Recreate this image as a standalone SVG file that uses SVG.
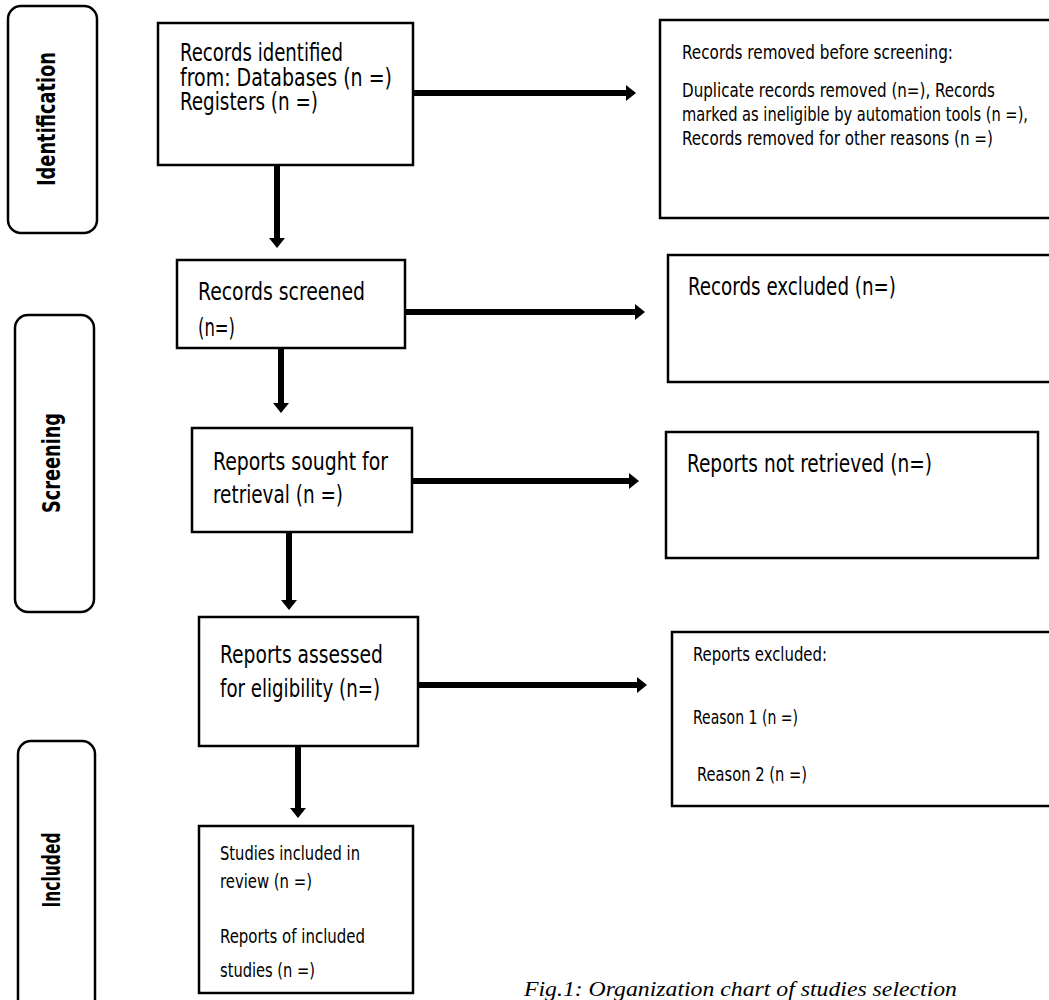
<svg xmlns="http://www.w3.org/2000/svg" width="1049" height="1000" viewBox="0 0 1049 1000">
<style>
.box{fill:#fff;stroke:#000;stroke-width:2.5}
.side{fill:#fff;stroke:#000;stroke-width:2.5}
.t{font-family:"DejaVu Sans Condensed","Liberation Sans Narrow","Liberation Sans",sans-serif;font-stretch:condensed;fill:#000}
.big{font-size:24px}
.small{font-size:19px}
.lab{font-family:"DejaVu Sans Condensed","Liberation Sans Narrow","Liberation Sans",sans-serif;font-stretch:condensed;font-weight:bold;font-size:24px;fill:#000;text-anchor:middle}
.cap{font-family:"Liberation Serif","Times New Roman",serif;font-style:italic;font-size:20px;fill:#000}
.conn line{stroke:#000;stroke-width:6}
</style>
<defs>
<marker id="ah" markerUnits="userSpaceOnUse" markerWidth="11" markerHeight="16" refX="0" refY="8" orient="auto">
<path d="M0,0 L10,8 L0,16 Z" fill="#000"/>
</marker>
</defs>
<rect width="1049" height="1000" fill="#fff"/>

<g id="stage-identification">
<rect class="side" x="8" y="6" width="89" height="227" rx="13"/>
<text class="lab" transform="translate(55,119) rotate(-90)" textLength="134" lengthAdjust="spacingAndGlyphs">Identification</text>
</g>
<g id="stage-screening">
<rect class="side" x="15" y="315" width="79" height="297" rx="13"/>
<text class="lab" transform="translate(60,463) rotate(-90)" textLength="100" lengthAdjust="spacingAndGlyphs">Screening</text>
</g>
<g id="stage-included">
<rect class="side" x="18" y="741" width="77" height="275" rx="13"/>
<text class="lab" transform="translate(60,870) rotate(-90)" textLength="75" lengthAdjust="spacingAndGlyphs">Included</text>
</g>

<g id="records-identified">
<rect class="box" x="158" y="23" width="255" height="142"/>
<text class="t big" x="180" y="61" textLength="163" lengthAdjust="spacingAndGlyphs">Records identified</text>
<text class="t big" x="180" y="86" textLength="212" lengthAdjust="spacingAndGlyphs">from: Databases (n =)</text>
<text class="t big" x="180" y="110" textLength="138" lengthAdjust="spacingAndGlyphs">Registers (n =)</text>
</g>
<g id="records-removed">
<rect class="box" x="660" y="20" width="400" height="198"/>
<text class="t small" x="682" y="59" textLength="271" lengthAdjust="spacingAndGlyphs">Records removed before screening:</text>
<text class="t small" x="682" y="97" textLength="313" lengthAdjust="spacingAndGlyphs">Duplicate records removed (n=), Records</text>
<text class="t small" x="682" y="121" textLength="346" lengthAdjust="spacingAndGlyphs">marked as ineligible by automation tools (n =),</text>
<text class="t small" x="682" y="145" textLength="311" lengthAdjust="spacingAndGlyphs">Records removed for other reasons (n =)</text>
</g>
<g id="records-screened">
<rect class="box" x="177" y="260" width="228" height="88"/>
<text class="t big" x="198" y="300" textLength="167" lengthAdjust="spacingAndGlyphs">Records screened</text>
<text class="t big" x="198" y="336" textLength="37" lengthAdjust="spacingAndGlyphs">(n=)</text>
</g>
<g id="records-excluded">
<rect class="box" x="668" y="255" width="400" height="127"/>
<text class="t big" x="688" y="295" textLength="208" lengthAdjust="spacingAndGlyphs">Records excluded (n=)</text>
</g>
<g id="reports-sought">
<rect class="box" x="192" y="428" width="220" height="104"/>
<text class="t big" x="213" y="470" textLength="175" lengthAdjust="spacingAndGlyphs">Reports sought for</text>
<text class="t big" x="213" y="503" textLength="130" lengthAdjust="spacingAndGlyphs">retrieval (n =)</text>
</g>
<g id="reports-not-retrieved">
<rect class="box" x="666" y="432" width="372" height="126"/>
<text class="t big" x="687" y="472" textLength="245" lengthAdjust="spacingAndGlyphs">Reports not retrieved (n=)</text>
</g>
<g id="reports-assessed">
<rect class="box" x="199" y="617" width="219" height="129"/>
<text class="t big" x="220" y="663" textLength="163" lengthAdjust="spacingAndGlyphs">Reports assessed</text>
<text class="t big" x="220" y="697" textLength="160" lengthAdjust="spacingAndGlyphs">for eligibility (n=)</text>
</g>
<g id="reports-excluded">
<rect class="box" x="672" y="632" width="400" height="174"/>
<text class="t small" x="693" y="661" textLength="134" lengthAdjust="spacingAndGlyphs">Reports excluded:</text>
<text class="t small" x="693" y="724" textLength="105" lengthAdjust="spacingAndGlyphs">Reason 1 (n =)</text>
<text class="t small" x="697" y="781" textLength="110" lengthAdjust="spacingAndGlyphs">Reason 2 (n =)</text>
</g>
<g id="studies-included">
<rect class="box" x="199" y="826" width="214" height="167"/>
<text class="t small" x="220" y="860" textLength="140" lengthAdjust="spacingAndGlyphs">Studies included in</text>
<text class="t small" x="220" y="888" textLength="92" lengthAdjust="spacingAndGlyphs">review (n =)</text>
<text class="t small" x="220" y="943" textLength="145" lengthAdjust="spacingAndGlyphs">Reports of included</text>
<text class="t small" x="220" y="977" textLength="95" lengthAdjust="spacingAndGlyphs">studies (n =)</text>
</g>

<g id="connectors" class="conn">
<line x1="413" y1="93" x2="626" y2="93" marker-end="url(#ah)"/>
<line x1="405" y1="312" x2="635" y2="312" marker-end="url(#ah)"/>
<line x1="412" y1="481" x2="629" y2="481" marker-end="url(#ah)"/>
<line x1="418" y1="685" x2="637" y2="685" marker-end="url(#ah)"/>
<line x1="277" y1="165" x2="277" y2="238" marker-end="url(#ah)"/>
<line x1="281" y1="348" x2="281" y2="403" marker-end="url(#ah)"/>
<line x1="289" y1="532" x2="289" y2="600" marker-end="url(#ah)"/>
<line x1="298" y1="746" x2="298" y2="808" marker-end="url(#ah)"/>
</g>

<text id="caption" class="cap" x="524" y="996" textLength="433" lengthAdjust="spacingAndGlyphs">Fig.1: Organization chart of studies selection</text>
</svg>
